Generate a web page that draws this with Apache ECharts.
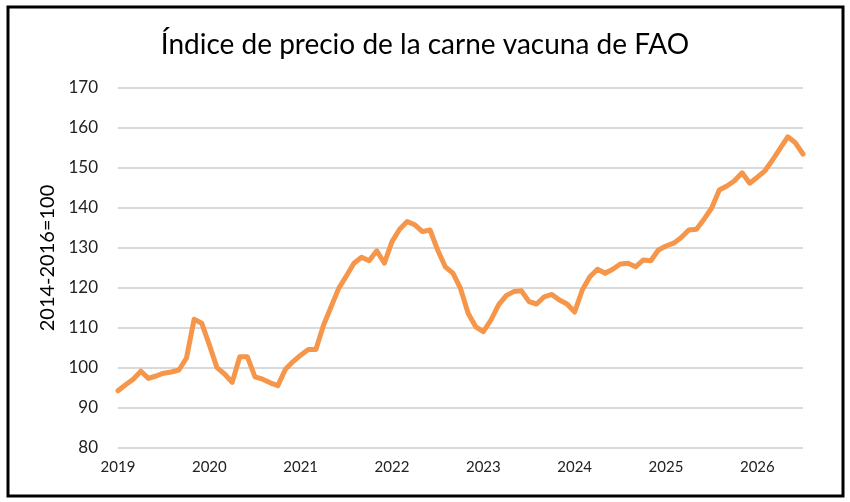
<!DOCTYPE html>
<html>
<head>
    <meta charset="utf-8">
    <script src="https://cdn.jsdelivr.net/npm/echarts@6/dist/echarts.min.js"></script>
</head>
<style type="text/css">
    html, body { margin: 0; padding: 0; background: #fff; }
    #chart { width: 850px; height: 502px; }
</style>
<body>
    <div id="chart"></div>
</body>
</html>

<script type="text/javascript">
    // monthly points, Jan 2019 .. Jul 2026
    let years = [2019, 2020, 2021, 2022, 2023, 2024, 2025, 2026]
    let months = ['01', '02', '03', '04', '05', '06', '07', '08', '09', '10', '11', '12']

    let values = [
        94.3, 95.8, 97.2, 99.2, 97.4, 98.0, 98.7, 99.0, 99.5, 102.5, 112.2, 111.2,
        105.8, 100.1, 98.5, 96.4, 102.8, 102.8, 97.8, 97.2, 96.3, 95.6, 99.7, 101.6,
        103.2, 104.6, 104.6, 110.7, 115.3, 119.9, 123.0, 126.2, 127.7, 126.8, 129.3, 126.2,
        131.6, 134.7, 136.6, 135.8, 134.1, 134.5, 129.5, 125.3, 123.7, 119.9, 113.7, 110.3,
        109.1, 112.0, 115.8, 118.1, 119.1, 119.3, 116.6, 116.0, 117.8, 118.4, 117.0, 116.0,
        114.0, 119.5, 122.8, 124.7, 123.7, 124.7, 126.0, 126.2, 125.3, 127.0, 126.8, 129.5,
        130.5, 131.2, 132.6, 134.5, 134.7, 137.2, 140.0, 144.5, 145.5, 146.8, 148.8, 146.2,
        147.7, 149.3, 152.0, 154.9, 157.8, 156.3, 153.5
    ]

    let categories = []
    years.forEach(y => {
        months.forEach(m => {
            if (categories.length < values.length) categories.push(y + '-' + m)
        })
    })

    let font = 'Lato, "Open Sans", sans-serif'

    let myChart = echarts.init(document.getElementById('chart'))

    let option = {
        animation: false,
        backgroundColor: '#fff',
        title: {
            text: 'Índice de precio de la carne vacuna de FAO',
            left: 'center',
            top: 26,
            textStyle: {
                fontFamily: font,
                fontSize: 28,
                fontWeight: 'normal',
                color: '#000'
            }
        },
        graphic: [{
            type: 'rect',
            shape: { x: 8, y: 7, width: 835, height: 489 },
            style: { fill: 'none', stroke: '#000', lineWidth: 3 },
            silent: true
        }],
        grid: {
            left: 118,
            right: 47,
            top: 88,
            bottom: 54
        },
        xAxis: {
            type: 'category',
            boundaryGap: false,
            data: categories,
            axisLine: { show: false },
            axisTick: { show: false },
            axisLabel: {
                interval: 11,
                margin: 12,
                fontFamily: font,
                fontSize: 15,
                color: '#222',
                formatter: v => v.slice(0, 4)
            },
            splitLine: { show: false }
        },
        yAxis: {
            type: 'value',
            min: 80,
            max: 170,
            interval: 10,
            name: '2014-2016=100',
            nameLocation: 'middle',
            nameGap: 60,
            nameTextStyle: {
                fontFamily: font,
                fontSize: 20,
                color: '#000',
                padding: [0, 0, 0, 20]
            },
            axisLine: { show: false },
            axisTick: { show: false },
            axisLabel: {
                margin: 20,
                fontFamily: font,
                fontSize: 17,
                color: '#222'
            },
            splitLine: {
                lineStyle: { color: '#d9d9d9', width: 2 }
            }
        },
        series: [{
            type: 'line',
            data: values,
            showSymbol: false,
            lineStyle: { color: '#f5964a', width: 5, cap: 'round', join: 'round' }
        }]
    }

    myChart.setOption(option)
</script>
